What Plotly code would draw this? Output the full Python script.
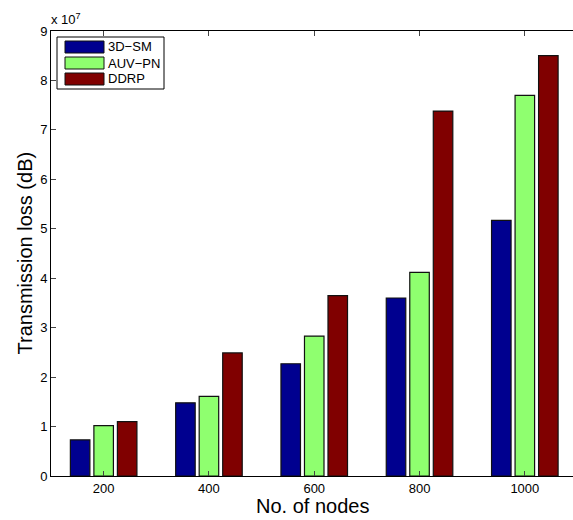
import plotly.graph_objects as go

# Number of nodes in the network (x categories)
nodes = [200, 400, 600, 800, 1000]

# Transmission loss (dB), in units of 1e7
sm_3d = [0.73, 1.48, 2.27, 3.60, 5.17]
auv_pn = [1.02, 1.61, 2.83, 4.12, 7.70]
ddrp = [1.10, 2.49, 3.65, 7.38, 8.50]

series_names = ["3D\u2212SM", "AUV\u2212PN", "DDRP"]
series_colors = ["#00008F", "#8FFF6F", "#800000"]
series_values = [sm_3d, auv_pn, ddrp]

scale = 1e7
y_ticks = list(range(0, 10))
y_tick_labels = [str(t) for t in y_ticks]

FONT = "Liberation Sans, Arial, Helvetica, sans-serif"

fig = go.Figure()
for name, color, vals in zip(series_names, series_colors, series_values):
    fig.add_trace(go.Bar(
        x=nodes,
        y=[v * scale for v in vals],
        name=name,
        marker=dict(color=color, line=dict(color="#111111", width=1.2)),
        showlegend=False,
    ))

fig.update_layout(
    width=573,
    height=520,
    margin=dict(l=51, r=0, t=31, b=44),
    paper_bgcolor="white",
    plot_bgcolor="white",
    barmode="group",
    bargap=0.33,
    bargroupgap=0.17,
    font=dict(family=FONT, size=13, color="black"),
    xaxis=dict(
        range=[100, 1091.5],
        tickvals=nodes,
        ticktext=[str(n) for n in nodes],
        ticks="inside",
        ticklen=5,
        tickcolor="#444",
        showline=True,
        linecolor="black",
        linewidth=1,
        mirror="ticks",
        showgrid=False,
        zeroline=False,
        tickfont=dict(size=13),
    ),
    yaxis=dict(
        range=[0, 9 * scale],
        tickvals=[t * scale for t in y_ticks],
        ticktext=y_tick_labels,
        ticks="inside",
        ticklen=5,
        tickcolor="#444",
        showline=True,
        linecolor="black",
        linewidth=1,
        showgrid=False,
        zeroline=False,
        tickfont=dict(size=13),
    ),
    yaxis2=dict(
        overlaying="y",
        side="right",
        range=[0, 9 * scale],
        tickvals=[t * scale for t in y_ticks],
        ticks="inside",
        ticklen=4,
        tickcolor="#444",
        showticklabels=False,
        showline=False,
        showgrid=False,
        zeroline=False,
    ),
)

annotations = [
    # exponent marker for the y axis
    dict(text="x 10<sup>7</sup>", xref="paper", yref="paper", x=0, y=1,
         xanchor="left", yanchor="bottom", yshift=2, xshift=-2, showarrow=False,
         font=dict(size=13, family=FONT)),
    # axis titles
    dict(text="No. of nodes", xref="paper", yref="paper", x=0.5, y=0,
         xanchor="center", yanchor="top", yshift=-17, showarrow=False,
         font=dict(size=20, family=FONT)),
    dict(text="Transmission loss (dB)", xref="paper", yref="paper", x=0, y=0.5,
         xanchor="center", yanchor="middle", xshift=-27, textangle=-90,
         showarrow=False, font=dict(size=20, family=FONT)),
]

# Legend box, positioned in paper fractions of the plot area
plot_w = 573 - 51
plot_h = 520 - 31 - 44


def px_x(p):
    return (p - 51) / plot_w


def px_y(p):
    return 1 - (p - 31) / plot_h


shapes = [
    dict(type="rect", xref="paper", yref="paper",
         x0=px_x(57), x1=px_x(164), y0=px_y(89), y1=px_y(37),
         line=dict(color="black", width=1), fillcolor="white"),
]
row_centers = [47, 63, 79]
for name, color, yc in zip(series_names, series_colors, row_centers):
    shapes.append(dict(type="rect", xref="paper", yref="paper",
                       x0=px_x(65), x1=px_x(104), y0=px_y(yc + 6), y1=px_y(yc - 6),
                       line=dict(color="#111111", width=1), fillcolor=color))
    annotations.append(dict(text=name, xref="paper", yref="paper",
                            x=px_x(106), y=px_y(yc), xanchor="left", yanchor="middle",
                            showarrow=False, font=dict(size=13, family=FONT)))

fig.update_layout(annotations=annotations, shapes=shapes)

fig.write_html("out.html")
